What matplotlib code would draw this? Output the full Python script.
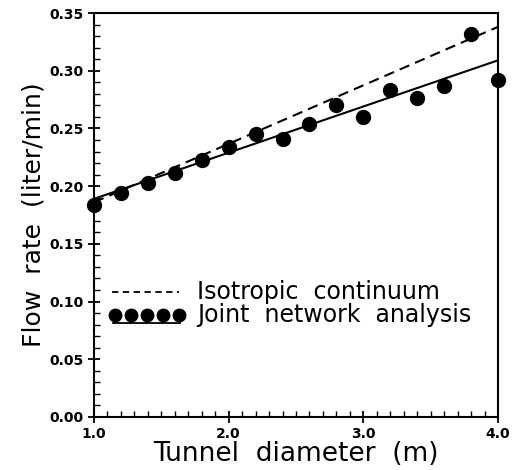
import matplotlib
matplotlib.use("Agg")
import matplotlib.pyplot as plt
from matplotlib.ticker import MultipleLocator, FormatStrFormatter

# Data
diameter = [1.0, 1.2, 1.4, 1.6, 1.8, 2.0, 2.2, 2.4, 2.6, 2.8, 3.0, 3.2, 3.4, 3.6, 3.8, 4.0]
joint_flow = [0.184, 0.194, 0.203, 0.211, 0.223, 0.234, 0.245, 0.241, 0.254, 0.270,
              0.260, 0.283, 0.276, 0.287, 0.332, 0.292]
fit_x = [1.0, 4.0]
joint_fit = [0.189, 0.309]
isotropic = [0.186, 0.338]

xticks = [1.0, 2.0, 3.0, 4.0]
yticks = [0.00, 0.05, 0.10, 0.15, 0.20, 0.25, 0.30, 0.35]

plt.rcParams['font.family'] = ['DejaVu Sans']
fig = plt.figure(figsize=(5.13, 4.70), dpi=100)
ax = fig.add_axes([94/513, 1-417/470, (498-94)/513, (417-13)/470])

ax.plot(fit_x, isotropic, color='black', lw=1.5, ls=(0, (5, 3)))
ax.plot(fit_x, joint_fit, color='black', lw=1.5)
ax.plot(diameter, joint_flow, 'o', color='black', ms=10, clip_on=False, zorder=5)

ax.set_xlim(1.0, 4.0)
ax.set_ylim(0.0, 0.35)
ax.set_xticks(xticks)
ax.set_yticks(yticks)
ax.xaxis.set_major_formatter(FormatStrFormatter('%.1f'))
ax.yaxis.set_major_formatter(FormatStrFormatter('%.2f'))
ax.xaxis.set_minor_locator(MultipleLocator(0.1))
ax.yaxis.set_minor_locator(MultipleLocator(0.01))
ax.tick_params(which='major', direction='inout', length=8, width=1.3, labelsize=10)
ax.tick_params(which='minor', direction='in', length=4, width=1.0)
ax.tick_params(axis='x', pad=3)
for lab in ax.get_xticklabels() + ax.get_yticklabels():
    lab.set_fontweight('bold')
for s in ax.spines.values():
    s.set_linewidth(1.5)

ax.set_xlabel('Tunnel  diameter  (m)', fontsize=19, labelpad=0)
ax.set_ylabel('Flow  rate  (liter/min)', fontsize=18, labelpad=3)

# Legend drawn manually in axes coordinates
tr = ax.transAxes
def ax_x(px):
    return (px - 94) / 404
def ax_y(py):
    return (417 - py) / 404
ax.plot([ax_x(112), ax_x(179)], [ax_y(292), ax_y(292)], color='black', lw=1.3,
        ls=(0, (3.5, 2.5)), transform=tr)
ax.plot([ax_x(113), ax_x(180)], [ax_y(323), ax_y(323)], color='black', lw=1.3, transform=tr)
for i in range(5):
    px = 115 + i * 16
    ax.plot([ax_x(px), ax_x(px)], [ax_y(315), ax_y(323)], color='black', lw=1.3, transform=tr)
ax.plot([ax_x(115 + i * 16) for i in range(5)], [ax_y(315)] * 5, 'o', color='black',
        ms=9, transform=tr)
ax.text(ax_x(197), ax_y(292), 'Isotropic  continuum', transform=tr, fontsize=17,
        va='center', ha='left')
ax.text(ax_x(197), ax_y(315), 'Joint  network  analysis', transform=tr, fontsize=17,
        va='center', ha='left')

fig.savefig('out.png', dpi=100)
